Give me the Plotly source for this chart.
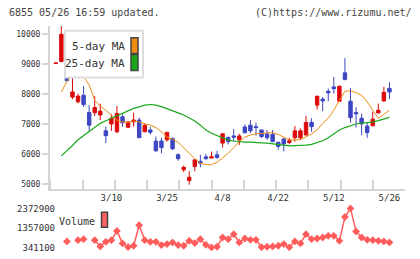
import plotly.graph_objects as go

W, H = 420, 259

# ---- data ----
x_idx = list(range(61))
tick_pos = [10, 20, 30, 40, 50, 60]
tick_labels = ["3/10", "3/25", "4/8", "4/22", "5/12", "5/26"]

opens = [9020, 9090, 8920, 7900, 7740, 7960, 7380, 7380, 7300, 6770,
         7000, 6740, 7240, 6890, 7070, 7130, 6740, 6800, 6430, 6430,
         6470, 6520, 5970, 5470, 5110, 5580, 5750, 5900, 5860, 5970,
         6360, 6550, 6600, 6470, 6900, 6960, 6910, 6800, 6670, 6650,
         6390, 6500, 6380, 6540, 6540, 6630, 7050, 7630, 7830, 8090,
         8240, 7760, 8710, 7760, 7380, 7190, 6930, 6940, 7370, 7770,
         8190]
highs = [9045, 10270, 8950, 8730, 8010, 8270, 7630, 7930, 7680, 6910,
         7320, 7600, 7320, 7090, 7380, 7210, 7020, 6910, 6580, 6540,
         6720, 6540, 6020, 5610, 5420, 5800, 5970, 5990, 6080, 6100,
         6670, 6580, 6830, 6670, 6990, 7130, 7050, 6800, 6800, 6800,
         6400, 6520, 6540, 6930, 6850, 7270, 7190, 7930, 7900, 8180,
         8570, 8290, 9200, 8200, 7560, 7350, 7040, 7410, 7680, 8240,
         8400]
lows = [9020, 9060, 8420, 7830, 7690, 7570, 6770, 7270, 7130, 6360,
        6770, 6690, 6910, 6870, 6910, 6540, 6720, 6650, 6080, 6020,
        6410, 6130, 5770, 5390, 4970, 5420, 5550, 5800, 5860, 5830,
        6210, 6320, 6410, 6300, 6680, 6690, 6610, 6520, 6470, 6390,
        6140, 6080, 6320, 6410, 6470, 6630, 6740, 7480, 7430, 7760,
        8020, 7740, 8460, 7040, 6880, 6630, 6540, 6940, 7370, 7740,
        7830]
closes = [9040, 10000, 8450, 8070, 7930, 7650, 6960, 7550, 7430, 6610,
          7190, 7350, 7040, 7070, 7130, 6540, 6960, 6720, 6100, 6210,
          6720, 6170, 5840, 5550, 5220, 5800, 5690, 5840, 5900, 5880,
          6670, 6410, 6560, 6600, 6710, 6770, 6880, 6580, 6540, 6410,
          6250, 6330, 6440, 6770, 6770, 7050, 6910, 7930, 7770, 8040,
          8180, 8260, 8490, 7210, 7340, 7000, 6710, 7160, 7460, 8060,
          8070]
ma5 = [None, 8070, 8420, 8650, 8680, 8580, 8310, 7790, 7600, 7460,
       7300, 7130, 7070, 7050, 7100, 7070, 7000, 6960, 6880, 6740,
       6560, 6490, 6390, 6190, 6020, 5840, 5690, 5640, 5640, 5720,
       5860, 6020, 6210, 6410, 6560, 6630, 6670, 6690, 6710, 6710,
       6650, 6560, 6470, 6460, 6480, 6570, 6670, 6800, 7020, 7190,
       7460, 7790, 8090, 8110, 8050, 7960, 7740, 7460, 7190, 7320,
       7460]
ma25 = [None, 5935, 6100, 6280, 6470, 6610, 6770, 6910, 7020, 7110,
        7190, 7270, 7350, 7430, 7520, 7570, 7630, 7650, 7630, 7580,
        7517, 7450, 7370, 7300, 7210, 7100, 6960, 6800, 6690, 6610,
        6520, 6460, 6430, 6400, 6390, 6390, 6390, 6370, 6360, 6345,
        6320, 6290, 6267, 6267, 6267, 6290, 6320, 6370, 6440, 6540,
        6680, 6800, 6880, 6940, 7000, 7030, 7050, 7060, 7110, 7160,
        7220]
volume = [None, None, 649700, None, 718500, 770200, None, 718500, 391200, 632200,
          718500, 1200900, 546300, 360000, 425400, 1494000, 718500, 632200, 632200, 460000,
          511700, 598000, 460000, 425400, 683900, 563400, 770200, 477100, 341100, 373700,
          856500, 770200, 1028700, 598000, 804800, 735600, 735600, 350000, 373700, 391200,
          425400, 511700, 345000, 649700, 546300, 1028700, 770200, 804800, 856500, 942400,
          942400, 683900, 1924700, 2372900, 1168300, 856500, 735600, 718500, 683900, 649700,
          598000]
price_ticks = [5000, 6000, 7000, 8000, 9000, 10000]
price_labels = ["5000", "6000", "7000", "8000", "9000", "10000"]
vol_ticks = [341100, 1357000, 2372900]
vol_labels = ["341100", "1357000", "2372900"]

# ---- styles ----
RED = "#dd0a0a"
BLUE = "#3c46c2"
ORANGE = "#f08c12"
GREEN = "#1aa81a"
VOLC = "#ff5c5c"
AX = "#d4d4d4"
TXT = "#333333"
MONO = "DejaVu Sans Mono"

def px_x(p):
    return p / W

def px_y(p):
    return 1 - p / H

fig = go.Figure()

fig.add_trace(go.Scatter(x=x_idx, y=ma5, mode="lines",
                         line=dict(color=ORANGE, width=1), hoverinfo="skip",
                         showlegend=False, xaxis="x", yaxis="y"))
fig.add_trace(go.Scatter(x=x_idx, y=ma25, mode="lines",
                         line=dict(color=GREEN, width=1.2), hoverinfo="skip",
                         showlegend=False, xaxis="x", yaxis="y"))
fig.add_trace(go.Candlestick(
    x=x_idx, open=opens, high=highs, low=lows, close=closes,
    increasing=dict(line=dict(color=RED, width=1), fillcolor=RED),
    decreasing=dict(line=dict(color=BLUE, width=1), fillcolor=BLUE),
    whiskerwidth=0, showlegend=False, xaxis="x", yaxis="y"))
fig.add_trace(go.Scatter(x=x_idx, y=volume, mode="lines+markers",
                         line=dict(color=VOLC, width=1.5),
                         marker=dict(symbol="diamond", size=6, color=VOLC),
                         connectgaps=False, showlegend=False,
                         xaxis="x2", yaxis="y2"))

xr = [-1.04, 62.8]
fig.update_layout(
    width=W, height=H, autosize=False,
    margin=dict(l=0, r=0, t=0, b=0),
    paper_bgcolor="white", plot_bgcolor="white",
    boxgap=0.12,
    showlegend=False,
    xaxis=dict(domain=[px_x(50), px_x(405)], range=xr, anchor="y",
               showline=True, linecolor=AX, linewidth=2,
               tickmode="array", tickvals=tick_pos, ticktext=tick_labels,
               ticks="", showgrid=False, zeroline=False,
               tickfont=dict(family=MONO, size=9, color=TXT),
               rangeslider=dict(visible=False),
               minor=dict(tickmode="linear", tick0=-1.0, dtick=5.805,
                          ticks="inside", ticklen=9, tickwidth=2,
                          tickcolor=AX, showgrid=False)),
    yaxis=dict(domain=[px_y(189), px_y(25)], range=[4841, 10282],
               anchor="x", showline=True, linecolor=AX, linewidth=2,
               tickmode="array", tickvals=price_ticks, ticktext=price_labels,
               ticks="outside", ticklen=6, tickwidth=2, tickcolor=AX,
               showgrid=False, zeroline=False,
               tickfont=dict(family=MONO, size=8, color=TXT)),
    xaxis2=dict(domain=[px_x(50), px_x(405)], range=xr, anchor="y2",
                visible=False),
    yaxis2=dict(domain=[px_y(252), px_y(205)], range=[149800, 2579700],
                anchor="free", position=px_x(55), showline=False,
                tickmode="array", tickvals=vol_ticks, ticktext=vol_labels,
                ticks="", showgrid=False, zeroline=False,
                tickfont=dict(family=MONO, size=9, color=TXT)),
)

shapes = [
    dict(type="rect", xref="paper", yref="paper",
         x0=px_x(65), x1=px_x(143), y0=px_y(77), y1=px_y(30),
         fillcolor="white", line=dict(color="#dddddd", width=2), layer="above"),
    dict(type="rect", xref="paper", yref="paper",
         x0=px_x(131), x1=px_x(138), y0=px_y(53), y1=px_y(37),
         fillcolor=ORANGE, line=dict(color="#444444", width=1.5), layer="above"),
    dict(type="rect", xref="paper", yref="paper",
         x0=px_x(131), x1=px_x(138), y0=px_y(70), y1=px_y(54),
         fillcolor=GREEN, line=dict(color="#444444", width=1.5), layer="above"),
    dict(type="rect", xref="paper", yref="paper",
         x0=px_x(101.5), x1=px_x(107.5), y0=px_y(228), y1=px_y(213),
         fillcolor="#ff6060", line=dict(color="#444444", width=1.5), layer="above"),
]
fig.update_layout(shapes=shapes)

ann = [
    dict(text="6855 05/26 16:59 updated.", x=px_x(7), y=px_y(12),
         xanchor="left", yanchor="middle", font=dict(family=MONO, size=10, color="#444")),
    dict(text="(C)https://www.rizumu.net/", x=px_x(414), y=px_y(12),
         xanchor="right", yanchor="middle", font=dict(family=MONO, size=10, color="#444")),
    dict(text="5-day MA", x=px_x(127), y=px_y(46),
         xanchor="right", yanchor="middle", font=dict(family=MONO, size=11, color=TXT)),
    dict(text="25-day MA", x=px_x(127), y=px_y(62.5),
         xanchor="right", yanchor="middle", font=dict(family=MONO, size=11, color=TXT)),
    dict(text="Volume", x=px_x(57), y=px_y(222),
         xanchor="left", yanchor="middle", font=dict(family=MONO, size=10, color=TXT)),
]
for a in ann:
    a.update(xref="paper", yref="paper", showarrow=False)
fig.update_layout(annotations=ann)

fig.write_html("out.html")
